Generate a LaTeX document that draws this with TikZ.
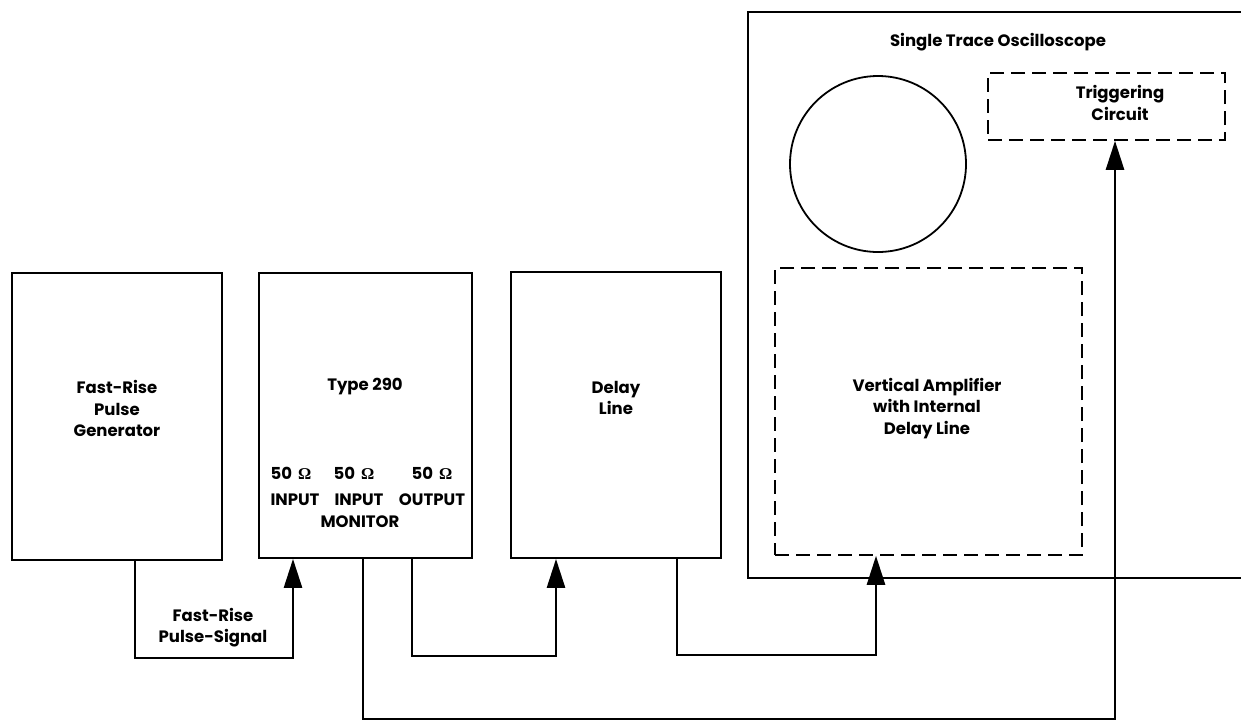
\documentclass[tikz,border=0pt]{standalone}
\usepackage{fontspec}
\setmainfont{Poppins}
\newfontfamily\omfont{Liberation Serif}
\usetikzlibrary{arrows.meta}
\begin{document}
\begin{tikzpicture}[x=1pt,y=-1pt,
  blk/.style={draw,line width=1.8pt,inner sep=0pt},
  dbox/.style={draw,line width=1.6pt,inner sep=0pt,dash pattern=on 14pt off 7pt},
  lbl/.style={align=center,inner sep=0pt,font=\fontsize{16.5}{21.5}\selectfont\bfseries},
  conn/.style={line width=2.6pt,line join=miter},
  arr/.style={conn,-{Triangle[length=29pt,width=18pt]}}]
\useasboundingbox (0,0) rectangle (1241,724);
% blocks
\node[blk,minimum width=210pt,minimum height=287pt] (gen) at (117,416.5) {};
\node[blk,minimum width=213pt,minimum height=285pt] (t290) at (365.5,415.5) {};
\node[blk,minimum width=210pt,minimum height=286pt] (dl) at (616,415) {};
% oscilloscope outline (open to the right)
\coordinate (oTR) at (1241,12);
\coordinate (oTL) at (748,12);
\coordinate (oBL) at (748,578);
\coordinate (oBR) at (1241,578);
\draw[line width=1.8pt] (oTR) -- (oTL) -- (oBL) -- (oBR);
\node[draw,circle,line width=1.8pt,minimum size=176pt,inner sep=0pt] (crt) at (878,164) {};
\node[dbox,minimum width=307pt,minimum height=287pt] (vamp) at (928.5,411.5) {};
\node[dbox,minimum width=237pt,minimum height=67pt] (trig) at (1106.5,106.5) {};
% labels
\node[lbl] (genT) at (117,408.5) {Fast-Rise\\Pulse\\Generator};
\node[lbl] (t290T) at (365,387) {Type 290};
\node[lbl] (o1) at (291,473) {50\hspace{6pt}{\omfont Ω}};
\node[lbl] (o2) at (354,473) {50\hspace{6pt}{\omfont Ω}};
\node[lbl] (o3) at (432,473) {50\hspace{6pt}{\omfont Ω}};
\node[lbl] (i1) at (295,500) {INPUT};
\node[lbl] (i2) at (359,500) {INPUT};
\node[lbl] (i3) at (432,500) {OUTPUT};
\node[lbl] (mon) at (360,522) {MONITOR};
\node[lbl] (dlT) at (616,398) {Delay\\Line};
\node[lbl] (vampT) at (927,408.5) {Vertical Amplifier\\with Internal\\Delay Line};
\node[lbl] (trigT) at (1120,103) {Triggering\\Circuit};
\node[lbl] (ttl) at (998,42) {Single Trace Oscilloscope};
\node[lbl] (sigT) at (213,627.5) {Fast-Rise\\Pulse-Signal};
% connectors
\draw[arr] ([xshift=18pt]gen.south) -- ++(0,97) -| ([xshift=-72.5pt]t290.south);
\draw[arr] ([xshift=46.5pt]t290.south) -- ++(0,97) -| ([xshift=-60pt]dl.south);
\draw[arr] ([xshift=61pt]dl.south) -- ++(0,96) -| ([xshift=-52.5pt]vamp.south);
\draw[arr] ([xshift=-2.5pt]t290.south) -- ++(0,160) -| ([xshift=8.5pt]trig.south);
\end{tikzpicture}
\end{document}
